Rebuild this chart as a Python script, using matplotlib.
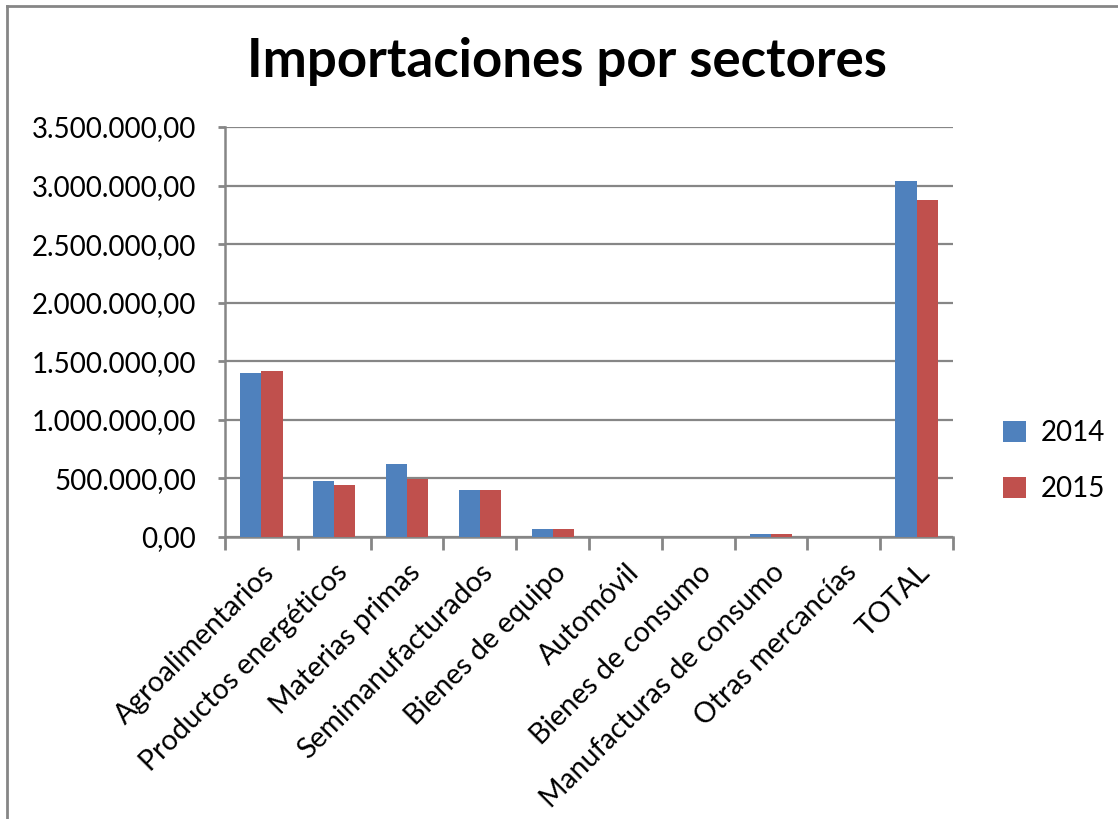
import matplotlib.pyplot as plt
import matplotlib.ticker as mticker
import numpy as np
from matplotlib.lines import Line2D

# Importaciones por sectores
sectores = ['Agroalimentarios', 'Productos energéticos', 'Materias primas',
            'Semimanufacturados', 'Bienes de equipo', 'Automóvil',
            'Bienes de consumo', 'Manufacturas de consumo', 'Otras mercancías',
            'TOTAL']
imp_2014 = [1397000, 475000, 623000, 401000, 68000, 2000, 2000, 30000, 2000, 3042000]
imp_2015 = [1417000, 441000, 495000, 401000, 68000, 2000, 2000, 30000, 2000, 2879000]

plt.rcParams['font.family'] = ['Lato', 'DejaVu Sans']

def fmt_es(v, pos):
    s = '{:,.2f}'.format(v)
    return s.replace(',', 'X').replace('.', ',').replace('X', '.')

fig = plt.figure(figsize=(11.18, 8.19), dpi=100)
ax = fig.add_axes([0.2013, 0.3443, 0.6511, 0.5007])

x = np.arange(len(sectores))
w = 0.29
ax.bar(x - w / 2, imp_2014, w, color='#4F81BD', label='2014', zorder=3)
ax.bar(x + w / 2, imp_2015, w, color='#C0504D', label='2015', zorder=3)

ax.set_xlim(-0.5, len(sectores) - 0.5)
ax.set_ylim(0, 3500000)
ax.yaxis.set_major_locator(mticker.MultipleLocator(500000))
ax.yaxis.set_major_formatter(mticker.FuncFormatter(fmt_es))
ax.grid(axis='y', color='#868686', linewidth=1.6, zorder=0)

# ticks del eje x en los limites de categoria
ax.set_xticks(np.arange(-0.5, len(sectores), 1.0))
ax.set_xticklabels([])
ax.set_xticks(x, minor=True)
ax.set_xticklabels(sectores, minor=True, rotation=45, ha='right',
                   rotation_mode='anchor', fontsize=20.5)
ax.tick_params(axis='x', which='minor', length=0, pad=16)
ax.tick_params(axis='x', which='major', length=9, width=2, color='#868686')
ax.tick_params(axis='y', length=5, width=2, color='#868686', labelsize=20, pad=16)

for s in ['top', 'right']:
    ax.spines[s].set_visible(False)
ax.spines['left'].set_color('#868686')
ax.spines['left'].set_linewidth(1.8)
ax.spines['bottom'].set_color('#868686')
ax.spines['bottom'].set_linewidth(1.8)

fig.text(0.507, 0.925, 'Importaciones por sectores', ha='center', va='center',
         fontsize=38, fontweight='bold')

ax.legend(loc='center left', bbox_to_anchor=(1.035, 0.185), frameon=False,
          fontsize=20, handlelength=0.8, handleheight=0.8, labelspacing=1.1,
          handletextpad=0.55)

# marco del grafico (solo se ven arriba e izquierda)
fig.add_artist(Line2D([7 / 1118, 7 / 1118], [0, 1 - 6 / 819],
                      transform=fig.transFigure, color='#868686', linewidth=2))
fig.add_artist(Line2D([7 / 1118, 1], [1 - 6 / 819, 1 - 6 / 819],
                      transform=fig.transFigure, color='#868686', linewidth=2))

fig.savefig('out.png', dpi=100)
